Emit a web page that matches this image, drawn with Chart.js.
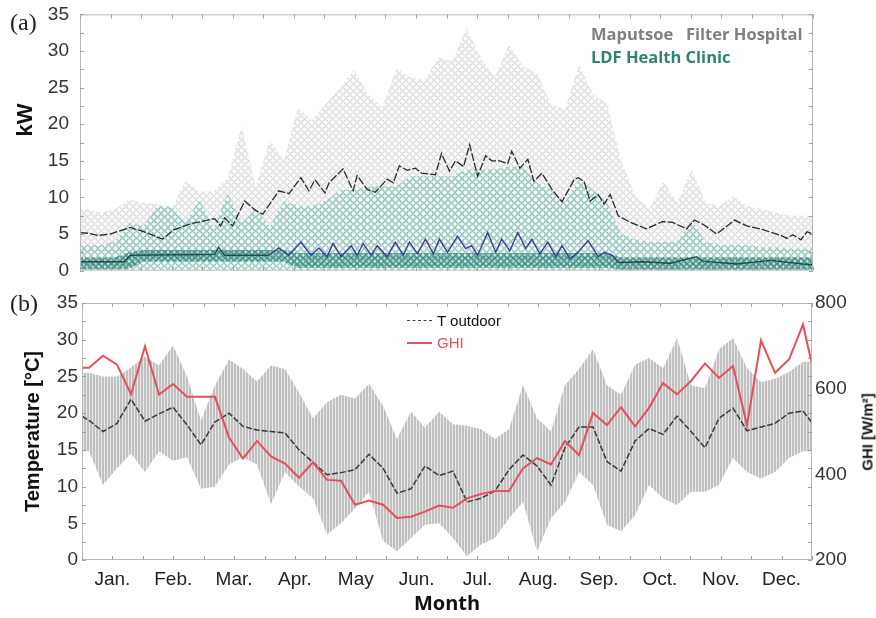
<!DOCTYPE html>
<html>
<head>
<meta charset="utf-8">
<script src="https://cdn.jsdelivr.net/npm/chart.js@4.4.1/dist/chart.umd.min.js"></script>
<style>
  body { margin: 0; background: #fff; }
  #wrap { position: relative; width: 876px; height: 618px; overflow: hidden; font-family: "Liberation Sans", Arial, sans-serif; }
  canvas { position: absolute; left: 0; }
  .lbl { position: absolute; white-space: nowrap; line-height: 1; }
  .rot { transform: translate(-50%, -50%) rotate(-90deg); }
  .leg { position: absolute; height: 0; width: 25px; }
</style>
</head>
<body>
<div id="wrap">
  <canvas id="chartLoad" width="876" height="285" style="top:0"></canvas>
  <canvas id="chartWeather" width="876" height="333" style="top:285px"></canvas>

  <div class="lbl" style="left:10px;top:9px;font:24px 'Liberation Serif',serif;color:#222">(a)</div>
  <div class="lbl" style="left:10px;top:290px;font:24px 'Liberation Serif',serif;color:#222">(b)</div>
  <div class="lbl rot" style="left:25px;top:120px;font:bold 22px 'Liberation Sans',Arial;color:#111">kW</div>
  <div class="lbl rot" style="left:867px;top:432px;font:bold 15px 'Liberation Sans',Arial;color:#111">GHI [W/m²]</div>

  <div class="lbl" style="left:591px;top:22px;line-height:20px;font:bold 16.5px 'Open Sans',sans-serif;color:#7f7f7f">Maputsoe&nbsp;&nbsp; Filter Hospital</div>
  <div class="lbl" style="left:591px;top:45px;line-height:20px;font:bold 16.5px 'Open Sans',sans-serif;color:#2f8277">LDF Health Clinic</div>

  <div class="leg" style="left:407px;top:320px;border-top:1.5px dashed #444"></div>
  <div class="lbl" style="left:437px;top:312px;font:15px 'Liberation Sans',Arial;color:#111">T outdoor</div>
  <div class="leg" style="left:407px;top:342px;border-top:2px solid #e5505c"></div>
  <div class="lbl" style="left:437px;top:334px;font:15px 'Liberation Sans',Arial;color:#e5505c">GHI</div>
</div>

<script>
// ---- data ----
const monthLabels = ['Jan.', 'Feb.', 'Mar.', 'Apr.', 'May', 'Jun.', 'Jul.', 'Aug.', 'Sep.', 'Oct.', 'Nov.', 'Dec.'];

// (a) Maputsoe Filter Hospital, mean load line (day of year, kW)
const maputsoeDays = [0,4,9,15,25,32,41,47,55,62,67,70,72,76,82,87,91,99,104,110,114,117,122,124,131,136,138,143,147,153,156,159,163,167,170,177,180,184,187,191,194,198,202,205,209,213,215,219,223,226,230,235,240,246,248,251,254,258,261,264,268,274,282,290,295,302,306,311,317,326,332,340,349,352,355,359,362,365];
const maputsoeKW = [5.2,5.1,4.8,5.0,5.9,5.3,4.3,5.6,6.4,6.8,7.1,6.1,7.2,6.1,9.5,8.3,7.7,10.9,10.5,12.7,10.9,12.4,10.6,12.0,13.9,10.9,13.0,11.1,10.7,12.5,12.0,14.3,13.7,14.0,13.3,13.1,16.0,13.6,15.0,14.2,17.2,12.9,15.7,15.0,15.0,14.6,16.3,14.0,15.2,12.2,13.3,11.1,9.4,12.4,12.7,12.2,9.5,10.4,9.1,10.4,7.5,6.6,5.7,6.7,6.6,5.7,6.9,6.2,5.0,6.9,6.1,5.6,4.8,4.4,4.9,4.2,5.3,5.0];

// (a) LDF Health Clinic, mean load line
const ldfDays = [0,22,25,67,69,72,94,99,104,110,115,119,123,126,130,135,138,141,145,148,153,157,161,164,168,172,176,179,183,188,192,195,198,203,207,210,214,218,222,225,229,233,237,240,244,248,253,258,261,265,268,280,294,307,310,327,344,360,365];
const ldfKW = [1.2,1.2,2.1,2.2,3.2,2.1,2.1,3.1,2.1,3.9,2.1,3.1,1.9,3.7,1.9,3.4,2.1,3.7,2.1,3.4,1.9,3.9,2.1,3.9,2.3,4.3,2.3,4.3,2.5,4.7,3.0,3.4,2.1,5.2,2.5,4.3,2.7,5.2,3.0,4.3,2.3,3.9,1.9,3.4,1.6,2.5,4.1,1.9,2.5,2.1,1.1,1.2,1.0,1.9,1.3,0.9,1.4,0.9,0.8];

// (a) weekly spread of the measured points (kW)
const maputsoeTop = [8.4,7.9,8.4,9.7,9.3,9.1,8.4,12.2,10.8,10.8,12.6,19.8,11.5,17.8,15.1,22.3,20.5,22.8,25,27.4,24.1,22.3,27.6,26.4,26,29.1,28.6,33.2,29.1,26.4,30.9,27.9,27,22.8,22,28.2,24.1,22.8,15,10.2,8.4,12.2,9.3,13.8,9.3,8.8,10.2,8.8,8.4,7.9,7.5,7.5];
const maputsoeBottom = [2.5,2.5,2.5,2.5,2.5,2.5,2.5,2.5,2.5,2.5,2.5,2.5,2.5,2.5,3.5,3.5,3.5,3.5,3.5,3.5,3.5,3.5,3.5,3.5,3.5,3.5,3.5,3.5,3.5,3.5,3.5,3.5,3.5,3.5,3.5,3.5,3.5,3.5,2.5,2.5,2.5,2.5,2.5,2.5,2.5,2.5,2.5,2.5,2.5,2.5,2.5,2.5];
const ldfTop = [3.5,3.5,4.0,6.5,6.1,8.8,8.8,6.5,9.7,5.7,10.6,6.5,8.4,6.0,9.5,8.8,8.8,9.5,11,11,11.5,11.5,11.5,12.9,12.9,12.9,12.9,13.8,13.8,13.8,14.2,14.2,12,11,9.3,12.4,11,9.3,5,4.2,3.9,3.9,3.9,6.9,3.9,3.5,3.5,3.5,3.2,3.2,3.0,3.0];
const ldfCoreLow = [0.2,0.2,0.2,0.3,1.2,1.2,1.2,1.2,1.2,1.2,1.2,1.2,1.2,1.2,1.2,0.4,0.4,0.4,0.4,0.4,0.4,0.4,0.4,0.4,0.4,0.4,0.4,0.4,0.4,0.4,0.4,0.4,0.4,0.4,0.4,0.4,0.4,0.4,0.1,0.1,0.1,0.1,0.1,0.1,0.1,0.1,0.1,0.1,0.1,0.1,0.1,0.1];
const ldfCoreHigh = [1.8,1.8,1.8,2.5,2.8,2.8,2.8,2.8,2.8,2.8,2.8,2.8,2.8,2.8,2.8,2.4,2.4,2.4,2.4,2.4,2.4,2.4,2.4,2.4,2.4,2.4,2.4,2.4,2.4,2.4,2.4,2.4,2.4,2.4,2.4,2.4,2.4,2.4,1.8,1.8,1.8,1.8,1.8,1.8,1.8,1.8,1.8,1.8,1.8,1.8,1.8,1.8];

// (b) weekly outdoor temperature (°C) and GHI (W/m2)
const tOutdoor = [19.0,17.5,18.6,21.9,18.9,19.9,20.8,18.4,15.7,18.8,20.0,18.2,17.7,17.5,17.3,15.0,13.3,11.6,11.9,12.3,14.4,12.5,9.1,9.7,12.8,11.5,12.1,7.9,8.4,9.4,12.3,14.3,12.8,10.2,15.3,18.1,18.1,13.4,12.1,16.2,17.9,17.1,19.6,17.5,15.3,19.3,20.7,17.6,18.1,18.6,20.0,20.3];
const tStart = 19.6, tEnd = 18.7;
const ghi = [649,677,656,587,699,586,611,581,581,581,486,437,478,442,425,392,428,387,385,329,339,329,298,301,313,327,322,344,354,361,361,414,438,423,478,445,543,515,557,512,555,613,587,618,659,625,653,515,713,637,668,750];
const ghiStart = 649, ghiEnd = 656;
// (b) weekly range of the hourly temperature
const tMax = [25.5,25,25,26.2,27.7,26.5,29.2,25,19,23.8,27.3,26,24.3,26.5,26,22.8,19.3,21.5,22.5,22,24,21,16.5,20.2,18,20.2,18.5,18.3,17.8,16.5,17.8,23.8,19.3,17.5,23.8,26,28.7,23.8,22.5,26.6,27.5,26.1,30.2,23.8,23.4,28.7,30.2,26.1,24.2,24.7,25.6,27];
const tMin = [14.8,10.2,12.5,14.5,12,14.8,13.5,14,9.7,10,13,14,13,7.6,12,10,8.4,3.5,5,7,9.3,2.6,1.2,3,4.8,5,3,0.5,2.1,3,5.7,7.9,1.2,5.7,7.9,12,10.2,4.8,3.9,6.1,10.2,8.4,7.5,9.3,9.3,10.2,13.9,12,11.1,12,13.9,14.8];

// ---- helpers ----
const weekDay = k => 3.5 + 7 * k;
const halfMonthDays = Array.from({ length: 25 }, (_, i) => i * 365 / 24);
const pts = (xs, ys) => xs.map((x, i) => ({ x, y: ys[i] }));
const weekly = ys => ys.map((y, k) => ({ x: weekDay(k), y }));
// weekly series held out to both plot edges
const envelope = ys => [{ x: 0, y: ys[0] }, ...weekly(ys), { x: 365, y: ys[ys.length - 1] }];

Chart.defaults.font.family = '"Liberation Sans", Arial, sans-serif';
Chart.defaults.color = '#333';
Chart.defaults.animation = false;

function ringPattern(ctx, size, r, stroke, fill, lw) {
  const c = document.createElement('canvas');
  c.width = c.height = size;
  const g = c.getContext('2d');
  if (fill) { g.fillStyle = fill; g.fillRect(0, 0, size, size); }
  g.strokeStyle = stroke;
  g.lineWidth = lw;
  g.beginPath();
  g.arc(size / 2, size / 2, r, 0, Math.PI * 2);
  g.stroke();
  return ctx.createPattern(c, 'repeat');
}

// light vertical hatching, stands in for the hourly spikes
function stripePattern(ctx) {
  const c = document.createElement('canvas');
  c.width = 3; c.height = 4;
  const g = c.getContext('2d');
  g.fillStyle = 'rgba(185,185,185,0.9)';
  g.fillRect(0, 0, 2, 4);
  g.fillStyle = 'rgba(222,222,222,0.7)';
  g.fillRect(2, 0, 1, 4);
  return ctx.createPattern(c, 'repeat');
}

// box frame with inward ticks
const framePlugin = {
  id: 'frame',
  afterDraw(chart) {
    const { ctx, chartArea: a, scales } = chart;
    ctx.save();
    ctx.strokeStyle = '#b8b8b8';
    ctx.lineWidth = 1;
    ctx.strokeRect(a.left + 0.5, a.top + 0.5, a.width - 1, a.height - 1);
    ctx.strokeStyle = '#a0a0a0';
    ctx.beginPath();
    halfMonthDays.forEach(d => {
      const px = Math.round(scales.x.getPixelForValue(d)) + 0.5;
      ctx.moveTo(px, a.top); ctx.lineTo(px, a.top + 4);
      ctx.moveTo(px, a.bottom); ctx.lineTo(px, a.bottom - 4);
    });
    for (let v = 0; v <= 35; v += 2.5) {
      const py = Math.round(scales.y.getPixelForValue(v)) + 0.5;
      ctx.moveTo(a.left, py); ctx.lineTo(a.left + 4, py);
      ctx.moveTo(a.right, py); ctx.lineTo(a.right - 4, py);
    }
    ctx.stroke();
    ctx.restore();
  }
};

const area = { borderColor: 'transparent', borderWidth: 1, pointRadius: 0, tension: 0 };
const tickFont = { size: 19 };

// ---- (a) load ----
const loadCanvas = document.getElementById('chartLoad');
const lctx = loadCanvas.getContext('2d');
new Chart(loadCanvas, {
  type: 'line',
  data: {
    datasets: [
      { label: 'LDF Health Clinic mean', data: pts(ldfDays, ldfKW),
        borderColor: '#1e4a48', borderWidth: 1.4, pointRadius: 0, tension: 0, order: 0,
        segment: { borderColor: c => (c.p0.parsed.x >= 92 && c.p1.parsed.x <= 268) ? '#3b3f8c' : '#1e4a48' } },
      { label: 'Maputsoe Filter Hospital mean', data: pts(maputsoeDays, maputsoeKW),
        borderColor: '#2a2a2a', borderWidth: 1.3, borderDash: [8, 2], pointRadius: 0, tension: 0, order: 1 },
      { label: 'LDF core high', data: envelope(ldfCoreHigh), ...area, order: 4, fill: '+1',
        backgroundColor: ringPattern(lctx, 6, 2.3, 'rgba(25,118,106,0.75)', 'rgba(70,150,140,0.2)', 1.2) },
      { label: 'LDF core low', data: envelope(ldfCoreLow), ...area, order: 4, fill: false },
      { label: 'LDF Health Clinic', data: envelope(ldfTop), ...area, order: 5, fill: 'origin',
        backgroundColor: ringPattern(lctx, 7, 2.8, 'rgba(110,182,172,0.85)', 'rgba(255,255,255,0.4)', 1.1) },
      { label: 'Maputsoe Filter Hospital', data: envelope(maputsoeTop), ...area, order: 6, fill: '+1',
        backgroundColor: ringPattern(lctx, 7, 2.8, 'rgba(200,200,200,0.8)', 'rgba(242,242,242,0.35)', 1) },
      { label: 'Maputsoe low', data: envelope(maputsoeBottom), ...area, order: 6, fill: false }
    ]
  },
  options: {
    responsive: false,
    layout: { padding: { top: 13, right: 63, bottom: 13, left: 0 } },
    plugins: { legend: { display: false }, tooltip: { enabled: false } },
    scales: {
      x: { type: 'linear', min: 0, max: 365, offset: false, display: false },
      y: {
        min: 0, max: 35,
        ticks: { stepSize: 5, padding: 3, font: tickFont, color: '#333' },
        grid: { display: false }, border: { display: false },
        afterFit: s => { s.width = 80; }
      }
    }
  },
  plugins: [framePlugin]
});

// ---- (b) weather ----
const weatherCanvas = document.getElementById('chartWeather');
const wctx = weatherCanvas.getContext('2d');
new Chart(weatherCanvas, {
  type: 'line',
  data: {
    datasets: [
      { label: 'GHI', yAxisID: 'y2',
        data: [{ x: 0, y: ghiStart }, ...weekly(ghi), { x: 365, y: ghiEnd }],
        borderColor: '#e5505c', borderWidth: 2, pointRadius: 0, tension: 0, order: 0 },
      { label: 'T outdoor', yAxisID: 'y',
        data: [{ x: 0, y: tStart }, ...weekly(tOutdoor), { x: 365, y: tEnd }],
        borderColor: '#3a3a3a', borderWidth: 1.5, borderDash: [6, 2], pointRadius: 0, tension: 0, order: 1 },
      { label: 'T hourly max', yAxisID: 'y', data: envelope(tMax), ...area, order: 2, fill: '+1',
        backgroundColor: stripePattern(wctx) },
      { label: 'T hourly min', yAxisID: 'y', data: envelope(tMin), ...area, order: 2, fill: false }
    ]
  },
  options: {
    responsive: false,
    layout: { padding: { top: 18, right: 0, bottom: 0, left: 0 } },
    plugins: { legend: { display: false }, tooltip: { enabled: false } },
    scales: {
      x: {
        type: 'linear', min: 0, max: 365, offset: false,
        afterBuildTicks: s => { s.ticks = halfMonthDays.map(v => ({ value: v })); },
        ticks: { autoSkip: false, maxRotation: 0, padding: 8, font: tickFont, color: '#222',
                 callback: (v, i) => (i % 2 ? monthLabels[(i - 1) / 2] : '') },
        grid: { display: false, drawTicks: false }, border: { display: false },
        title: { display: true, text: 'Month', color: '#111', padding: { top: 0, bottom: 2 },
                 font: { family: '"Open Sans", sans-serif', weight: 'bold', size: 20 } },
        afterFit: s => { s.height = 58; }
      },
      y: {
        min: 0, max: 35,
        ticks: { stepSize: 5, padding: 4, font: tickFont, color: '#333' },
        grid: { display: false, drawTicks: false }, border: { display: false },
        title: { display: true, text: 'Temperature [°C]', color: '#111', padding: { top: 21, bottom: 0 },
                 font: { weight: 'bold', size: 20 } },
        afterFit: s => { s.width = 82; }
      },
      y2: {
        position: 'right', min: 200, max: 800,
        ticks: { stepSize: 200, padding: 3, font: tickFont, color: '#333' },
        grid: { display: false, drawTicks: false }, border: { display: false },
        afterFit: s => { s.width = 64; }
      }
    }
  },
  plugins: [framePlugin]
});
</script>
</body>
</html>
